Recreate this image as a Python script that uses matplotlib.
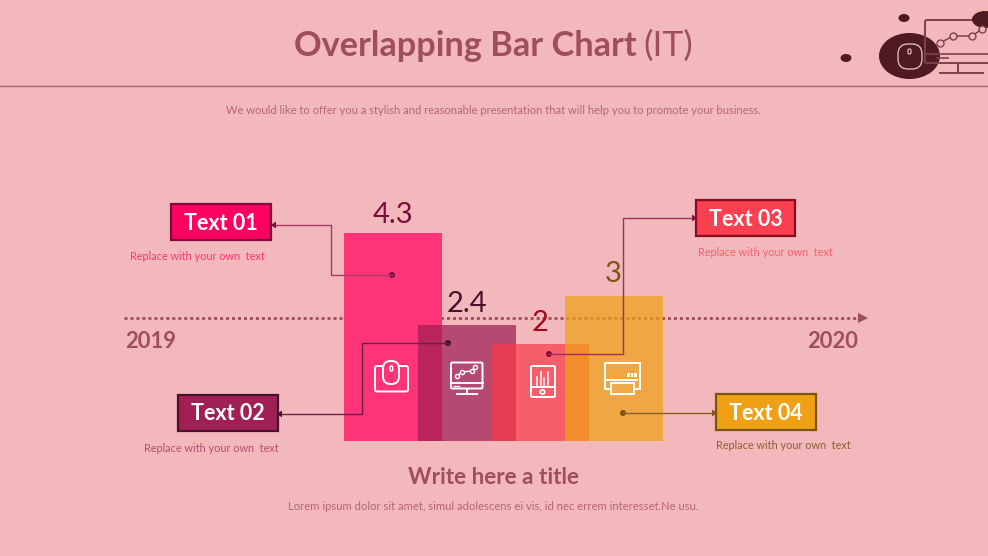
import matplotlib
matplotlib.use("Agg")
import matplotlib.pyplot as plt
from matplotlib.patches import Rectangle, FancyBboxPatch, Ellipse, Circle, Polygon

plt.rcParams['font.family'] = ['Lato', 'DejaVu Sans']

# ---- data ----
values = [4.3, 2.4, 2.0, 3.0]
value_labels = ['4.3', '2.4', '2', '3']
callouts = ['Text 01', 'Text 02', 'Text 03', 'Text 04']
bar_colors = ['#FF3377', '#9E1F54', '#F93848', '#F0A014']
bar_alphas = [1.0, 0.72, 0.70, 0.72]
value_colors = ['#7A0C3E', '#4A1030', '#A00A20', '#7A5510']
years = ['2019', '2020']

BG = '#F3B8BC'
W, H = 988, 556
fig = plt.figure(figsize=(W / 100, H / 100), dpi=100, facecolor=BG)

# pixel-space layer for the decoration
deco = fig.add_axes([0, 0, 1, 1], zorder=1)
deco.set_xlim(0, W); deco.set_ylim(H, 0); deco.axis('off')

# bar layer with a real value scale
left, right, base = 344, 663, 441
pxu = 48.4
ymax = 5
bars = fig.add_axes([left / W, 1 - base / H, (right - left) / W, pxu * ymax / H], zorder=2)
bars.patch.set_alpha(0)
bars.set_xlim(-0.665, 3.665); bars.set_ylim(0, ymax); bars.axis('off')
for i in range(4):
    bars.bar(i, values[i], width=1.33, color=bar_colors[i], alpha=bar_alphas[i], lw=0, zorder=i)

# front layer
top = fig.add_axes([0, 0, 1, 1], zorder=3)
top.set_xlim(0, W); top.set_ylim(H, 0); top.axis('off'); top.patch.set_alpha(0)

# header
TC = '#9E4F58'
deco.text(465.5, 46, 'Overlapping Bar Chart', ha='center', va='center', fontsize=24.7, fontweight='bold', color=TC)
deco.text(668, 46, '(IT)', ha='center', va='center', fontsize=25.5, color=TC)
deco.plot([0, 988], [86, 86], color='#A8626A', lw=1)
deco.text(493.5, 110, 'We would like to offer you a stylish and reasonable presentation that will help you to promote your business.',
          ha='center', va='center', fontsize=8, color='#B5666F')

# top-right illustration
D = '#4F1A22'; L = '#80404A'
deco.add_patch(Ellipse((904, 18), 11, 8, color=D, lw=0))
deco.add_patch(Ellipse((846, 58), 11, 8, color=D, lw=0))
deco.add_patch(Ellipse((909.5, 56), 61, 46, color=D, lw=0))
deco.add_patch(FancyBboxPatch((925, 20), 70, 43, boxstyle='round,pad=0,rounding_size=2', fill=False, ec=L, lw=1.4))
deco.plot([925, 988], [53.5, 53.5], color=L, lw=1.2)
deco.plot([958, 958], [63, 73], color=L, lw=1.4)
deco.plot([940, 983], [73, 73], color=L, lw=1.4)
deco.plot([940, 953, 972, 982], [43, 36, 36, 29], color=L, lw=1.1, marker='o', ms=5, mfc=BG, mec=L)
deco.add_patch(Ellipse((985, 19.5), 26, 17, color=D, lw=0))
deco.add_patch(FancyBboxPatch((898, 44), 24, 25, boxstyle='round,pad=0,rounding_size=10', fill=False, ec='#E8C8C8', lw=0.9))
deco.add_patch(FancyBboxPatch((908, 49), 3, 5, boxstyle='round,pad=0,rounding_size=1.2', fill=False, ec='#E8C8C8', lw=0.8))
deco.plot([937, 948], [58, 58], color=L, lw=1.2)

# time axis (behind the bars)
A = '#9E4F58'
deco.plot([124, 860], [318, 318], color=A, lw=2.0, ls=(0, (1.1, 1.05)), dash_capstyle='butt')
deco.add_patch(Polygon([[858, 313], [868, 318], [858, 323]], color=A, lw=0))
deco.text(125, 341, years[0], ha='left', va='center', fontsize=15.8, fontweight='bold', color=A)
deco.text(858, 341, years[1], ha='right', va='center', fontsize=15.8, fontweight='bold', color=A)

# value labels
for (x, y), s, c in zip([(392.5, 215), (466.5, 304), (540, 323), (613, 274)], value_labels, value_colors):
    top.text(x, y, s, ha='center', va='center', fontsize=21, color=c)

# callout boxes
boxes = [(171, 204, 100, 36, '#FF0060', '#7A0C3E'), (178, 395, 100, 36, '#A01F55', '#4A1030'),
         (696, 200, 99, 36, '#F94050', '#8A0A20'), (716, 394, 100, 36, '#F0A014', '#7A5510')]
for (x, y, w, h, f, e), s in zip(boxes, callouts):
    top.add_patch(Rectangle((x, y), w, h, fc=f, ec=e, lw=1.6))
    top.text(x + w / 2, y + h / 2 + 1, s, ha='center', va='center', fontsize=15.5, fontweight='bold', color='white')

# captions
for x, y, c in [(197, 256, '#FF3377'), (211, 448.5, '#B84A72'), (765, 252.5, '#F7606A'), (783.5, 445.5, '#8C6030')]:
    top.text(x, y, 'Replace with your own  text', ha='center', va='center', fontsize=7.85, color=c)

# leader lines
leaders = [([392, 331, 331, 276], [275, 275, 225, 225], '#7A0C3E', '#A83A66'),
           ([448, 362, 362, 282], [343, 343, 414, 414], '#4A1030', '#6A2040'),
           ([549, 623, 623, 692], [354, 354, 218, 218], '#8A0A3A', '#A03058'),
           ([623, 712], [413, 413], '#7A5510', '#8A6020')]
for xs, ys, dot, line in leaders:
    top.plot(xs, ys, color=line, lw=1)
    top.add_patch(Circle((xs[0], ys[0]), 3, color=dot, lw=0))
    d = 5 if xs[-1] > xs[-2] else -5
    top.add_patch(Polygon([[xs[-1] + d, ys[-1]], [xs[-1], ys[-1] - 3.5], [xs[-1], ys[-1] + 3.5]], color=dot, lw=0))

# white icons
wk = dict(fill=False, ec='white', lw=1.4)
lk = dict(color='white', lw=1.4)
# mouse
top.add_patch(FancyBboxPatch((375, 366), 33, 25.5, boxstyle='round,pad=0,rounding_size=2', **wk))
top.add_patch(FancyBboxPatch((383, 361), 16, 23, boxstyle='round,pad=0,rounding_size=7.5', fc='#FF3377', ec='white', lw=1.4))
top.add_patch(FancyBboxPatch((390, 366), 2.6, 5, boxstyle='round,pad=0,rounding_size=1', fill=False, ec='white', lw=1))
# monitor
top.add_patch(FancyBboxPatch((451, 362.5), 31.5, 26, boxstyle='round,pad=0,rounding_size=1.5', **wk))
top.plot([451, 482.5], [383, 383], **lk)
top.plot([454, 459], [386, 386], color='white', lw=1)
top.plot([466.5, 466.5], [388.5, 393.5], **lk)
top.plot([457, 477], [393.5, 393.5], **lk)
top.plot([457, 462, 472, 475], [376, 372, 371, 367], color='white', lw=1, marker='o', ms=3, mfc='#BC5078', mec='white')
# tablet
top.add_patch(FancyBboxPatch((531, 366), 24, 31, boxstyle='round,pad=0,rounding_size=1.5', **wk))
top.plot([531, 555], [387, 387], **lk)
top.add_patch(Circle((542.5, 392), 2.2, fill=False, ec='white', lw=1.2))
for x, yt in zip([537, 540.7, 544.3, 548], [377, 372, 378, 372]):
    top.plot([x, x], [385, yt], color='white', lw=1.1)
# printer
top.add_patch(Rectangle((605, 362.5), 34.5, 26, **wk))
top.plot([607, 637], [380, 380], **lk)
top.add_patch(Rectangle((611, 383), 23, 11, fc='#F0AA48', ec='white', lw=1.4))
for x in [628.5, 632, 635.5]:
    top.add_patch(Rectangle((x - 1.3, 373), 2.6, 4, color='white', lw=0))

# footer
deco.text(493.5, 477, 'Write here a title', ha='center', va='center', fontsize=16.2, fontweight='bold', color=TC)
deco.text(493.5, 506.5, 'Lorem ipsum dolor sit amet, simul adolescens ei vis, id nec errem interesset.Ne usu.',
          ha='center', va='center', fontsize=8.15, color='#B5666F')

fig.savefig('out.png', dpi=100, facecolor=BG)
